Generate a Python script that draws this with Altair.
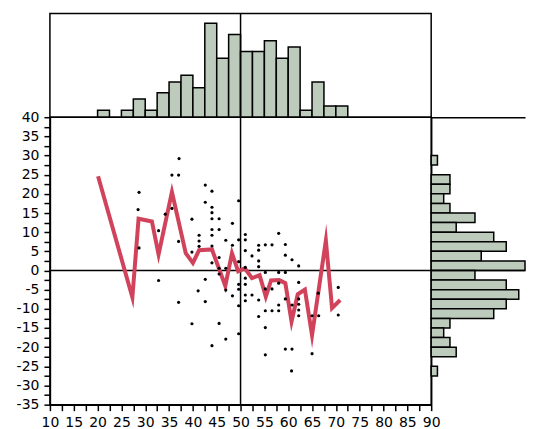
import altair as alt
import pandas as pd

# ---- data ----
# red line (vertices)
line_x = [20.1, 27.3, 28.6, 31.4, 32.8, 35.6, 38.5, 40.0, 41.3, 44.0, 46.8, 48.2, 49.5, 50.9,
          52.4, 54.0, 55.3, 56.4, 58.1, 59.4, 60.7, 62.0, 63.5, 65.0, 67.9, 69.2, 70.9]
line_y = [24.6, -7.0, 13.5, 12.8, 4.2, 20.5, 4.5, 2.0, 5.3, 5.5, -4.0, 4.5, -0.2, 0.6,
          -2.0, -1.2, -6.8, -2.6, -2.5, -3.3, -13.3, -6.2, -5.0, -16.9, 7.8, -9.8, -7.7]

# scatter points
pt_x = [28.7, 28.5, 28.7, 37.1, 35.6, 37.0, 35.6, 32.8, 34.2, 37.0, 39.8, 39.8, 41.3, 41.3, 41.3,
        42.6, 42.6, 44.0, 44.0, 44.0, 44.0, 44.0, 44.0, 44.0, 44.0, 45.5, 45.5, 45.5, 45.5, 45.5,
        46.9, 46.9, 48.3, 48.3, 49.6, 49.6, 49.6, 51.0, 51.0, 51.0, 52.4, 53.8, 53.8, 55.2, 56.6,
        58.0, 59.4, 59.4, 60.8, 62.2, 53.8, 53.8, 55.2, 58.0, 59.4, 51.0, 51.0, 46.9, 48.3, 49.6,
        49.6, 49.6, 49.6, 51.0, 51.0, 51.0, 52.4, 53.8, 53.8, 55.2, 55.2, 55.2, 55.2, 56.6, 56.6,
        58.0, 58.0, 58.0, 59.4, 59.4, 60.8, 60.8, 62.2, 62.2, 62.2, 62.2, 62.2, 60.7, 65.0, 66.4,
        65.0, 66.3, 70.5, 70.5, 46.9, 45.5, 32.8, 37.0, 39.8, 41.1, 42.6, 42.6, 44.0]
pt_y = [20.4, 15.9, 5.9, 29.2, 24.9, 24.9, 16.2, 10.4, 14.7, 7.6, 13.4, 4.8, 9.2, 7.7, 6.3,
        22.3, 17.8, 20.7, 16.5, 15.1, 13.5, 10.7, 9.2, 6.4, 2.0, 13.5, 10.7, 3.4, 0.6, -0.9,
        7.9, 0.6, 12.3, 6.6, 18.2, 8.0, 2.3, 9.4, 8.0, 5.2, 3.8, 6.6, 5.3, 6.7, 6.7,
        9.7, 6.8, 4.0, 2.8, 1.2, 2.5, 1.0, -0.5, -0.5, -0.5, 0.8, -2.0, -5.1, -6.6, -3.6,
        -4.9, -9.2, -16.5, -3.6, -6.4, -7.9, -6.4, -7.7, -12.0, -4.8, -10.5, -14.9, -22.0, -4.8, -10.5,
        -3.3, -9.0, -10.5, -7.4, -20.5, -9.0, -20.5, -3.1, -7.4, -8.8, -10.3, -11.8, -26.2, -11.8, -11.8,
        -21.7, -5.9, -4.4, -11.6, -17.9, -13.8, -2.6, -8.3, -13.9, -5.3, -2.3, -8.1, -19.6]

# top histogram (x bins of width 2.5)
xbin_start = [20, 22.5, 25, 27.5, 30, 32.5, 35, 37.5, 40, 42.5, 45, 47.5, 50, 52.5, 55, 57.5,
              60, 62.5, 65, 67.5, 70]
xbin_count = [1.1, 0, 1.1, 2.9, 1.1, 3.9, 5.6, 6.7, 4.7, 15.0, 9.4, 13.2, 10.5, 10.5, 12.2, 9.4,
              11.2, 1.1, 5.6, 1.8, 1.8]

# right histogram (y bins of width 2.5)
ybin_start = [27.5, 25, 22.5, 20, 17.5, 15, 12.5, 10, 7.5, 5, 2.5, 0,
              -2.5, -5, -7.5, -10, -12.5, -15, -17.5, -20, -22.5, -25, -27.5]
ybin_count = [1, 0, 3, 3, 2, 3, 7, 4, 10, 12, 8, 15,
              7, 12, 14, 12, 10, 3, 2, 3, 4, 0, 1]

# crosshair position
cross_x = [50]
cross_y = [0]

# axis ticks
x_ticks = [10 + 2.5 * i for i in range(33)]
y_ticks = [-35 + 2.5 * i for i in range(31)]

BIN = 2.5
FILL = "#bccbbb"
RED = "#d1435b"
FONT = "DejaVu Sans"

line_df = pd.DataFrame({"x": line_x, "y": line_y})
pt_df = pd.DataFrame({"x": pt_x, "y": pt_y})
top_df = pd.DataFrame({"x0": xbin_start, "x1": [v + BIN for v in xbin_start], "n": xbin_count})
top_df = top_df[top_df["n"] > 0]
right_df = pd.DataFrame({"y0": ybin_start, "y1": [v + BIN for v in ybin_start], "n": ybin_count})
right_df = right_df[right_df["n"] > 0]
vx_df = pd.DataFrame({"x": cross_x})
hy_df = pd.DataFrame({"y": cross_y})

xs = alt.Scale(domain=[10, 90], nice=False, zero=False)
ys = alt.Scale(domain=[-35, 40], nice=False, zero=False)

lab_expr = "datum.value % 5 == 0 ? '' + datum.value : ''"
common_axis = dict(labelOverlap=False, labelFlush=False, tickSize=6, tickWidth=1.5,
                   domainWidth=1.5, domainColor="black", tickColor="black",
                   labelColor="black", labelFontSize=14, labelFont=FONT, title=None,
                   grid=False, labelPadding=5, minExtent=0)

x_axis = alt.Axis(values=x_ticks, labelExpr=lab_expr, **common_axis)
y_axis = alt.Axis(values=y_ticks, labelExpr=lab_expr, **common_axis)

W, H, S, R = 382, 288, 104, 94

vrule_main = alt.Chart(vx_df).mark_rule(color="black", strokeWidth=1.5).encode(
    x=alt.X("x:Q", scale=xs, axis=x_axis))
hrule_main = alt.Chart(hy_df).mark_rule(color="black", strokeWidth=1.5).encode(
    y=alt.Y("y:Q", scale=ys, axis=y_axis))
line = alt.Chart(line_df).mark_line(color=RED, strokeWidth=4, strokeJoin="miter",
                                    strokeMiterLimit=10).encode(
    x=alt.X("x:Q", scale=xs, axis=x_axis), y=alt.Y("y:Q", scale=ys, axis=y_axis))
pts = alt.Chart(pt_df).mark_circle(size=10, color="black", opacity=1).encode(
    x=alt.X("x:Q", scale=xs, axis=x_axis), y=alt.Y("y:Q", scale=ys, axis=y_axis))
main = alt.layer(vrule_main, hrule_main, line, pts).properties(width=W, height=H)

top_bars = alt.Chart(top_df).mark_rect(fill=FILL, stroke="black", strokeWidth=1.5).encode(
    x=alt.X("x0:Q", scale=xs, axis=None), x2="x1",
    y=alt.Y("n:Q", scale=alt.Scale(domain=[0, 16.56], nice=False), axis=None),
    y2=alt.datum(0))
top_rule = alt.Chart(vx_df).mark_rule(color="black", strokeWidth=1.5).encode(
    x=alt.X("x:Q", scale=xs, axis=None))
top = alt.layer(top_bars, top_rule).properties(width=W, height=S)

r_xaxis = alt.Axis(orient="top", labels=False, ticks=False, title=None, grid=False,
                   domainColor="black", domainWidth=1.5, minExtent=0, maxExtent=0)
r_yaxis = alt.Axis(labels=False, ticks=False, title=None, grid=False,
                   domainColor="black", domainWidth=1.5, minExtent=0, maxExtent=0)
right_bars = alt.Chart(right_df).mark_rect(fill=FILL, stroke="black", strokeWidth=1.5).encode(
    y=alt.Y("y0:Q", scale=ys, axis=r_yaxis), y2="y1",
    x=alt.X("n:Q", scale=alt.Scale(domain=[0, 15.0], nice=False), axis=r_xaxis),
    x2=alt.datum(0))
right_rule = alt.Chart(hy_df).mark_rule(color="black", strokeWidth=1.5).encode(
    y=alt.Y("y:Q", scale=ys, axis=r_yaxis))
right = alt.layer(right_bars, right_rule).properties(
    width=R, height=H, view=alt.ViewBackground(stroke="transparent"))

blank = alt.Chart(vx_df).mark_point(opacity=0, size=1).encode(
    x=alt.value(20), y=alt.value(20)).properties(
    width=R, height=S, view=alt.ViewBackground(stroke="transparent"))

chart = alt.concat(top, blank, main, right, columns=2, spacing=0, bounds="flush").properties(
    padding={"left": 7, "top": 3, "right": 0, "bottom": 14}
).configure(font=FONT).configure_view(stroke="black", strokeWidth=1.5)

chart.save("out.html", embed_options={"renderer": "svg", "actions": False})
